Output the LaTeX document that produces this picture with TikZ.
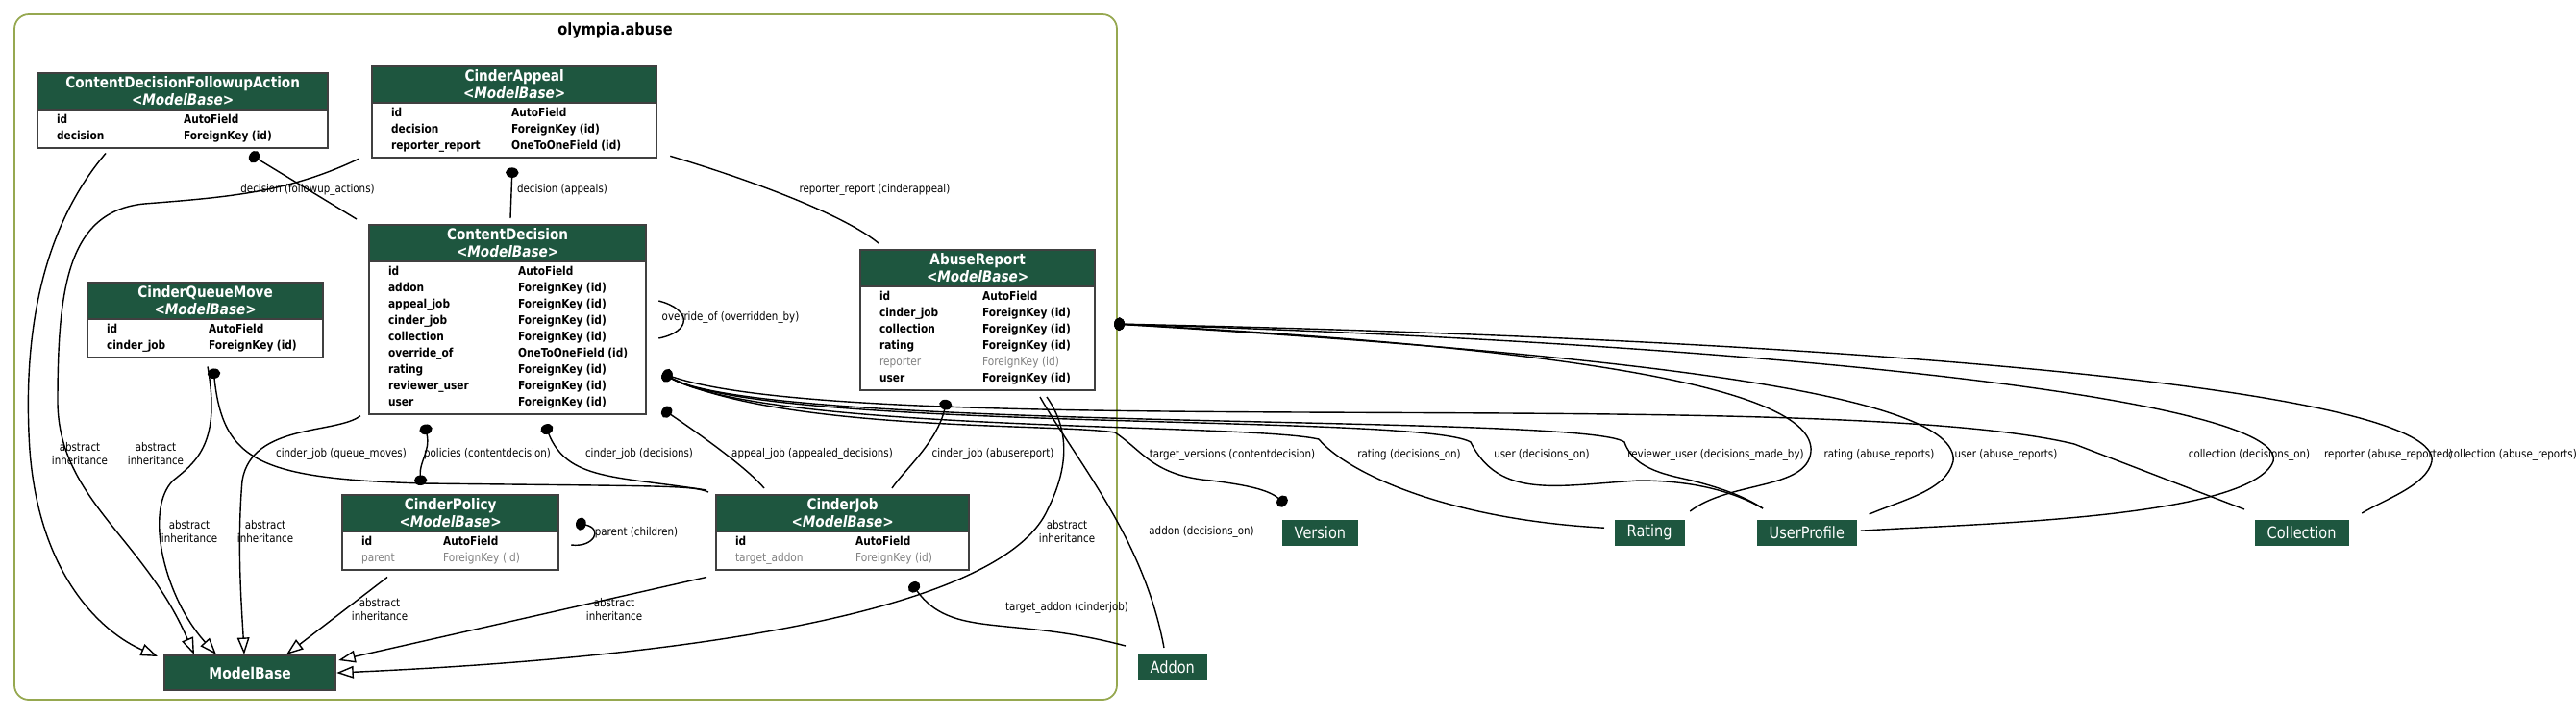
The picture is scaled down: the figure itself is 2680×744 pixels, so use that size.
\documentclass[tikz,border=0pt]{standalone}
\usepackage{fontspec}
\setmainfont{DejaVu Sans}[FakeStretch=0.86]
\usetikzlibrary{shapes.multipart,arrows.meta,calc}
\definecolor{modelgreen}{RGB}{30,86,63}
\definecolor{clusterline}{RGB}{150,168,80}
\newcommand\fieldfont{\fontsize{3.5pt}{4.8pt}\selectfont}
\newcommand\titlefont{\fontsize{4.5pt}{5.2pt}\selectfont}
\newcommand\row[2]{\textbf{#1} & \textbf{#2}\\}
\newcommand\grayrow[2]{\textcolor{gray}{#1} & \textcolor{gray}{#2}\\}
\newcommand\fkid{ForeignKey\hspace{1pt}(id)}
% name, position, text width, first column, title, rows
\newcommand\model[6]{%
  \node[model, text width=#3] (#1) at (#2) {\centering\titlefont\color{white}\textbf{#5}\\\textbf{\textit{<ModelBase>}}\par
    \nodepart{two}\fieldfont\begin{tabular}{@{}p{#4}@{}l@{}}#6\end{tabular}};}

\begin{document}
\begin{tikzpicture}
  [x=0.01cm, y=-0.01cm,
    model/.style={rectangle split, rectangle split parts=2,
      rectangle split part fill={modelgreen,white}, draw=black!75, line width=0.6pt,
      inner xsep=2mm, inner ysep=0.7pt, anchor=north west, align=left},
    entity/.style={fill=modelgreen, text=white, font=\fontsize{4.8pt}{5pt}\selectfont,
      minimum height=2.7mm, inner xsep=1.3mm, inner ysep=0.5pt, anchor=north west},
    lbl/.style={font=\fontsize{3.4pt}{4.1pt}\selectfont, align=center, inner sep=0.5pt},
    rel/.style={line width=0.4pt},
    fk/.style={rel, {Circle[length=3pt,width=3.8pt]}-},
    inh/.style={rel, -{Triangle[open,length=5pt,width=3.6pt]}},
  ]
  \useasboundingbox (0,0) rectangle (2680,744);

  % cluster
  \draw[clusterline, line width=0.5pt, rounded corners=1.5mm] (15,15) rectangle (1162,728);
  \node[font=\bfseries\fontsize{4.8pt}{5pt}\selectfont] (clustertitle) at (640,32) {olympia.abuse};

  % models
  \model{cdfa}{38,75}{26.2mm}{13.2mm}{ContentDecisionFollowupAction}{\row{id}{AutoField}\row{decision}{\fkid}}
  \model{appeal}{386,68}{25.6mm}{12.5mm}{CinderAppeal}{\row{id}{AutoField}\row{decision}{\fkid}\row{reporter\_report}{OneToOneField\hspace{1pt}(id)}}
  \model{cd}{383,233}{24.8mm}{13.5mm}{ContentDecision}{\row{id}{AutoField}\row{addon}{\fkid}\row{appeal\_job}{\fkid}\row{cinder\_job}{\fkid}\row{collection}{\fkid}\row{override\_of}{OneToOneField\hspace{1pt}(id)}\row{rating}{\fkid}\row{reviewer\_user}{\fkid}\row{user}{\fkid}}
  \model{cqm}{90,293}{20.5mm}{10.6mm}{CinderQueueMove}{\row{id}{AutoField}\row{cinder\_job}{\fkid}}
  \model{report}{894,259}{20.4mm}{10.7mm}{AbuseReport}{\row{id}{AutoField}\row{cinder\_job}{\fkid}\row{collection}{\fkid}\row{rating}{\fkid}\grayrow{reporter}{\fkid}\row{user}{\fkid}}
  \model{policy}{355,514}{18.5mm}{8.5mm}{CinderPolicy}{\row{id}{AutoField}\grayrow{parent}{\fkid}}
  \model{job}{744,514}{22.3mm}{12.5mm}{CinderJob}{\row{id}{AutoField}\grayrow{target\_addon}{\fkid}}

  \node[fill=modelgreen, draw=black!75, line width=0.6pt, text=white, font=\bfseries\fontsize{4.6pt}{5pt}\selectfont,
    minimum width=17.8mm, minimum height=3.1mm, anchor=north west] (mb) at (170,681) {ModelBase};
  \node[entity] (addon) at (1183,680) {Addon};
  \node[entity] (version) at (1333,540) {Version};
  \node[entity] (rating) at (1679,540) {Rating};
  \node[entity] (userprofile) at (1827,540) {UserProfile};
  \node[entity] (collection) at (2345,540) {Collection};

  % relations inside the app
  \draw[fk] ($(cdfa.south west)+(222,5)$) -- ($(cd.north west)+(-12,-5)$);
  \node[lbl] (l1) at (320,197) {decision (followup\_actions)};
  \draw[fk] ($(appeal.south west)+(147,9)$) -- ($(cd.north west)+(148,-6)$);
  \node[lbl] (l2) at (585,197) {decision (appeals)};
  \draw[rel] ($(appeal.south east)+(13,-3)$) .. controls (790,190) and (880,225) .. ($(report.north west)+(20,-6)$);
  \node[lbl] (l3) at (910,197) {reporter\_report (cinderappeal)};
  \draw[rel] ($(cd.north east)+(12,80)$) .. controls (720,322) and (720,345) .. ($(cd.north east)+(12,119)$);
  \node[lbl] (l4) at (760,330) {override\_of (overridden\_by)};
  \draw[fk] ($(cd.south east)+(16,-6)$) .. controls (740,460) and (780,490) .. ($(job.north west)+(51,-6)$);
  \node[lbl] (l5) at (845,472) {appeal\_job (appealed\_decisions)};
  \draw[fk] ($(cd.south west)+(184,10)$) .. controls (590,500) and (640,495) .. ($(job.north west)+(-9,-4)$);
  \node[lbl] (l6) at (665,472) {cinder\_job (decisions)};
  \draw[rel, {Circle[length=3pt,width=3.8pt]}-{Circle[length=3pt,width=3.8pt]}] ($(cd.south west)+(59,10)$) .. controls (448,470) and (436,480) .. ($(policy.north west)+(83,-9)$);
  \node[lbl] (l7) at (507,472) {policies (contentdecision)};
  \draw[fk] ($(cqm.south west)+(132,10)$) .. controls (232,480) and (270,498) .. (440,503) .. controls (700,506) and (720,505) .. ($(job.north west)+(-7,-2)$);
  \node[lbl] (l8) at (355,472) {cinder\_job (queue\_moves)};
  \draw[fk] ($(report.south west)+(91,9)$) .. controls (975,460) and (940,490) .. ($(job.north west)+(184,-6)$);
  \node[lbl] (l9) at (1033,472) {cinder\_job (abusereport)};
  \draw[fk] ($(policy.north east)+(17,30)$) .. controls (628,550) and (618,570) .. ($(policy.north east)+(12,53)$);
  \node[lbl] (l10) at (662,554) {parent (children)};
  \draw[fk] ($(job.south west)+(204,12)$) .. controls (990,665) and (1050,640) .. ($(addon.north west)+(-12,-8)$);
  \node[lbl] (l11) at (1110,632) {target\_addon (cinderjob)};
  \draw[rel] ($(report.south west)+(188,6)$) .. controls (1120,480) and (1190,560) .. ($(addon.north west)+(28,-6)$);
  \node[lbl] (l12) at (1250,553) {addon (decisions\_on)};

  % inheritance
  \draw[inh] ($(cdfa.south west)+(72,4)$) .. controls (50,230) and (25,330) .. (30,450) .. controls (35,600) and (110,660) .. ($(mb.north west)+(-6,2)$);
  \node[lbl] (i1) at (83,472) {abstract\\inheritance};
  \draw[inh] ($(appeal.south west)+(-13,0)$) .. controls (300,200) and (240,205) .. (150,212) .. controls (70,220) and (60,300) .. (60,420) .. controls (62,520) and (150,560) .. ($(mb.north west)+(32,0)$);
  \node[lbl] (i2) at (162,472) {abstract\\inheritance};
  \draw[inh] ($(cqm.south west)+(126,8)$) .. controls (230,460) and (205,480) .. (180,500) .. controls (150,530) and (170,620) .. ($(mb.north west)+(55,0)$);
  \node[lbl] (i3) at (197,553) {abstract\\inheritance};
  \draw[inh] ($(cd.south west)+(-8,1)$) .. controls (350,452) and (262,440) .. (252,500) .. controls (246,570) and (252,640) .. ($(mb.north west)+(84,0)$);
  \node[lbl] (i4) at (276,553) {abstract\\inheritance};
  \draw[inh] ($(policy.south west)+(48,6)$) -- ($(mb.north west)+(128,0)$);
  \node[lbl] (i5) at (395,634) {abstract\\inheritance};
  \draw[inh] ($(job.south west)+(-9,6)$) -- ($(mb.north east)+(2,6)$);
  \node[lbl] (i6) at (639,634) {abstract\\inheritance};
  \draw[inh] ($(report.south west)+(195,6)$) .. controls (1115,450) and (1110,490) .. (1090,530) .. controls (1050,620) and (800,680) .. (mb.east);
  \node[lbl] (i7) at (1110,553) {abstract\\inheritance};

  % relations to other apps from ContentDecision
  \coordinate (cddot) at ($(cd.south east)+(16,-43)$);
  \draw[rel, -{Circle[length=3pt,width=3.8pt]}] (cddot) .. controls (800,450) and (1100,440) .. (1160,450) .. controls (1190,470) and (1200,495) .. (1260,500) .. controls (1300,505) and (1320,510) .. ($(version.north west)+(5,-15)$);
  \node[lbl] (r1) at (1282,473) {target\_versions (contentdecision)};
  \draw[fk] (cddot) .. controls (800,450) and (1300,440) .. (1372,457) .. controls (1400,490) and (1500,540) .. ($(rating.west)+(-10,-5)$);
  \node[lbl] (r2) at (1466,473) {rating (decisions\_on)};
  \draw[fk] (cddot) .. controls (800,450) and (1480,430) .. (1530,460) .. controls (1560,520) and (1620,505) .. (1705,500) .. controls (1770,500) and (1810,515) .. ($(userprofile.north west)+(7,-11)$);
  \node[lbl] (r3) at (1604,473) {user (decisions\_on)};
  \draw[fk] (cddot) .. controls (800,450) and (1650,430) .. (1690,460) .. controls (1700,490) and (1740,495) .. (1760,500) .. controls (1800,510) and (1820,520) .. ($(userprofile.north west)+(7,-11)$);
  \node[lbl] (r4) at (1785,473) {reviewer\_user (decisions\_made\_by)};
  \draw[fk] (cddot) .. controls (900,460) and (1900,400) .. (2158,462) -- ($(collection.north west)+(-10,-10)$);
  \node[lbl] (r5) at (2340,473) {collection (decisions\_on)};

  % relations to other apps from AbuseReport
  \coordinate (ardot) at ($(report.north east)+(19,78)$);
  \draw[fk] (ardot) .. controls (1600,360) and (1890,400) .. (1884,470) .. controls (1880,510) and (1800,500) .. ($(rating.north east)+(5,-8)$);
  \node[lbl] (r6) at (1955,473) {rating (abuse\_reports)};
  \draw[fk] (ardot) .. controls (1700,370) and (2040,410) .. (2032,480) .. controls (2025,510) and (1980,520) .. ($(userprofile.north east)+(12,-5)$);
  \node[lbl] (r7) at (2087,473) {user (abuse\_reports)};
  \draw[fk] (ardot) .. controls (1900,360) and (2380,420) .. (2365,480) .. controls (2340,540) and (2050,545) .. ($(userprofile.east)+(3,-2)$);
  \node[lbl] (r8) at (2485,473) {reporter (abuse\_reported)};
  \draw[fk] (ardot) .. controls (2000,355) and (2540,410) .. (2530,480) .. controls (2525,505) and (2480,520) .. ($(collection.north east)+(13,-6)$);
  \node[lbl] (r9) at (2614,473) {collection (abuse\_reports)};
\end{tikzpicture}
\end{document}
